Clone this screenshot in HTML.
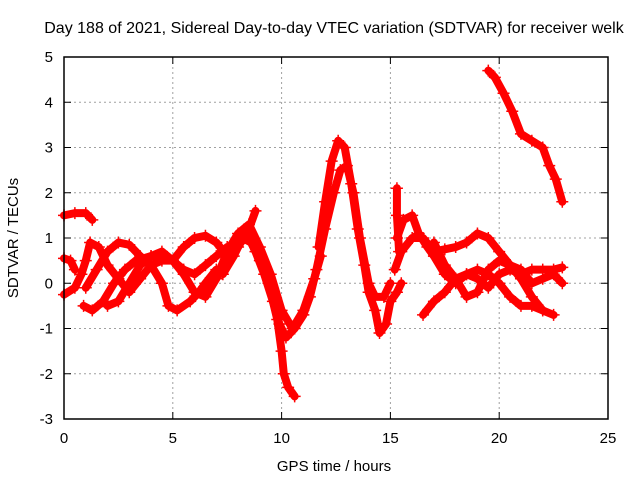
<!DOCTYPE html>
<html><head><meta charset="utf-8"><style>
body{margin:0;background:#fff}
svg{display:block;font-family:"Liberation Sans",sans-serif}
</style></head><body>
<svg id="chart" width="640" height="480">
<text x="334" y="33" text-anchor="middle" font-size="16">Day 188 of 2021, Sidereal Day-to-day VTEC variation (SDTVAR) for receiver welk</text>
<text x="334" y="471" text-anchor="middle" font-size="15">GPS time / hours</text>
<text transform="translate(18,238) rotate(-90)" text-anchor="middle" font-size="15">SDTVAR / TECUs</text>
<g id="grid"></g>
<g id="marks"></g>
<rect x="64" y="57" width="544" height="362" fill="none" stroke="#000" stroke-width="1.5"/>
<g id="ticks"></g>
</svg>
<script>
const xTicks=[0,5,10,15,20,25];
const yTicks=[-3,-2,-1,0,1,2,3,4,5];
const s1=[[0,-0.25],[0.5,-0.1],[0.8,0.2],[1.0,0.5],[1.2,0.9],[1.6,0.8],[2.0,0.4],[2.5,0.1],[3,-0.2],[3.5,0.1],[4,0.4],[4.5,0.5],[5,0.5],[5.5,0.3],[6,0.2],[6.5,0.4],[7,0.6],[7.5,0.8],[8,0.9],[8.5,1.0],[8.8,0.7],[9.2,0.2],[9.6,-0.4],[9.9,-0.9],[10.2,-1.2],[10.6,-1.0],[11,-0.7],[11.3,-0.3],[11.6,0.3],[12,1.2],[12.4,2.0],[12.7,2.5],[13,2.6],[13.3,2.0],[13.6,1.0],[14,0.0],[14.3,-0.3],[14.7,-0.3],[15,0.0]];
const s2=[[0.9,-0.5],[1.3,-0.6],[1.8,-0.4],[2.3,0.0],[2.8,0.3],[3.3,0.5],[4,0.6],[4.5,0.55],[5,0.5],[5.5,0.8],[6,1.0],[6.5,1.05],[7,0.9],[7.5,0.6],[8,0.8],[8.5,1.2],[8.8,1.6]];
const s3=[[1,-0.1],[1.5,0.3],[2,0.7],[2.5,0.9],[3,0.85],[3.5,0.6],[4,0.4],[4.5,0.0],[4.8,-0.5],[5.2,-0.6],[5.8,-0.4],[6.2,-0.2],[6.5,0.0],[7,0.3],[7.3,0.2],[7.8,0.6],[8.2,1.0],[8.6,0.9],[9,0.5],[9.4,0.0],[9.8,-0.8],[10,-1.5],[10.1,-2.0],[10.3,-2.3],[10.6,-2.5]];
const s4=[[2,-0.5],[2.5,-0.4],[3,0.0],[3.5,0.4],[4,0.6],[4.5,0.7],[5,0.5],[5.5,0.2],[6,-0.2],[6.5,-0.3],[7,0.1],[7.5,0.7],[8,1.1],[8.5,1.3],[9,0.8],[9.5,0.2],[10,-0.6],[10.5,-1.0],[11,-0.6],[11.5,0.1],[11.8,0.6]];
const s5=[[11.7,0.8],[12,1.8],[12.3,2.7],[12.6,3.15],[12.9,3.0],[13.2,2.2],[13.5,1.2],[13.8,0.4],[14,-0.2],[14.3,-0.6],[14.5,-1.1],[14.8,-0.9],[15,-0.4],[15.3,-0.2],[15.5,0.0]];
const s6=[[19.5,4.7],[19.8,4.55],[20.2,4.2],[20.6,3.8],[21,3.3],[21.5,3.15],[22,3.0],[22.3,2.6],[22.6,2.3],[22.9,1.8]];
const s7=[[15.3,1.0],[15.6,1.4],[16,1.5],[16.3,1.1],[16.7,0.8],[17,0.6],[17.5,0.2],[18,0.0],[18.5,0.2],[19,0.3],[19.5,0.2],[20,0.0],[20.5,-0.3],[21,-0.5],[21.5,-0.5],[22,-0.6],[22.5,-0.7]];
const s8=[[15.2,0.3],[15.5,0.7],[16,1.0],[16.5,1.0],[17,0.7],[17.5,0.75],[18,0.8],[18.5,0.9],[19,1.1],[19.5,1.0],[20,0.7],[20.5,0.4],[21,0.1],[21.5,-0.3],[22,-0.6]];
const s9=[[16.5,-0.7],[17,-0.4],[17.5,-0.2],[18,0.1],[18.5,0.2],[19,0.1],[19.5,-0.1],[20,0.2],[20.5,0.3],[21,0.2],[21.5,0.3],[22,0.3],[22.5,0.3],[22.9,0.35]];
const s10=[[17,0.9],[17.5,0.4],[18,0.1],[18.5,-0.3],[19,-0.2],[19.5,0.3],[20,0.5],[20.5,0.4],[21,0.3],[21.5,0.0],[22,0.1],[22.5,0.2],[22.9,0.0]];
const s11=[[15.3,2.1],[15.3,1.5],[15.4,0.7]];
const s12=[[0,1.5],[0.5,1.55],[1,1.55],[1.3,1.4]];
const s13=[[0,0.55],[0.3,0.5],[0.5,0.3]];
const series=[s1,s2,s3,s4,s5,s6,s7,s8,s9,s10,s11,s12,s13];
const X=v=>64+v*(544/25);
const Y=v=>419-(v+3)*(362/8);
const NS="http://www.w3.org/2000/svg";
const grid=document.getElementById('grid'),ticks=document.getElementById('ticks'),marks=document.getElementById('marks');
function mk(tag,at,parent){const e=document.createElementNS(NS,tag);for(const k in at)e.setAttribute(k,at[k]);parent.appendChild(e);return e;}
xTicks.forEach(t=>{const x=X(t);
 if(t>0&&t<25){const g=mk('line',{x1:x,x2:x,y1:57,y2:419,stroke:'#a0a0a0','stroke-dasharray':'2,3'},grid);
 
 }
 mk('line',{x1:x,x2:x,y1:419,y2:412,stroke:'#000'},ticks);
 mk('line',{x1:x,x2:x,y1:57,y2:64,stroke:'#000'},ticks);
 const l=mk('text',{x:x,y:443,'text-anchor':'middle','font-size':'15'},ticks);l.textContent=t;
 
 });
yTicks.forEach(t=>{const y=Y(t);
 if(t>-3&&t<5){const g=mk('line',{x1:64,x2:608,y1:y,y2:y,stroke:'#a0a0a0','stroke-dasharray':'2,3'},grid);
 
 }
 mk('line',{x1:64,x2:71,y1:y,y2:y,stroke:'#000'},ticks);
 mk('line',{x1:601,x2:608,y1:y,y2:y,stroke:'#000'},ticks);
 const l=mk('text',{x:53,y:y+5,'text-anchor':'end','font-size':'15'},ticks);l.textContent=t;
 
 });
series.forEach((s,i)=>{
 const p=mk('polyline',{points:s.map(d=>X(d[0])+','+Y(d[1])).join(' '),fill:'none',stroke:'#f00','stroke-width':8,'stroke-linejoin':'round','stroke-linecap':'round'},marks);
 
 
 s.forEach(d=>{const x=X(d[0]),y=Y(d[1]);
  mk('path',{d:`M${x-6},${y}H${x+6}M${x},${y-6}V${y+6}`,stroke:'#f00','stroke-width':1.5},marks);});
});
</script>
</body></html>
